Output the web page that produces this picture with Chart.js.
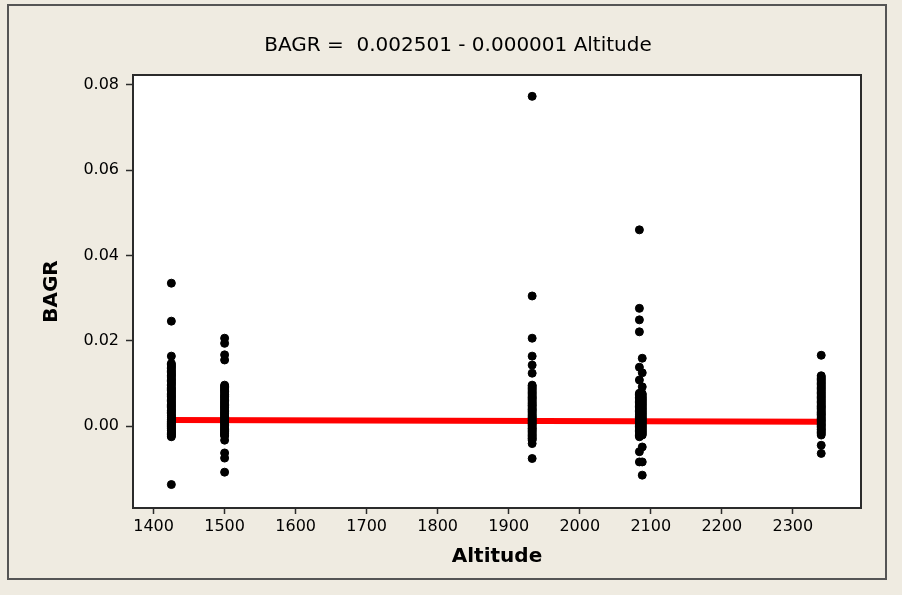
<!DOCTYPE html>
<html>
<head>
<meta charset="utf-8">
<script src="https://cdn.jsdelivr.net/npm/chart.js@4/dist/chart.umd.min.js"></script>
<style>
  html, body { margin: 0; padding: 0; background: #efebe1; }
  #wrap { width: 902px; height: 595px; }
</style>
</head>
<body>
<div id="wrap"><canvas id="chart" width="902" height="595"></canvas></div>
<script>
// site altitudes (x) and BAGR observations per site (y)
const site1Alt = 1425
const site1Bagr = [0.0335, 0.0246, 0.0164, 0.0147, 0.0144, 0.0141, 0.0138, 0.0135, 0.0131, 0.0128,
  0.0125, 0.0122, 0.0119, 0.0117, 0.0113, 0.0110, 0.0107, 0.0104, 0.0101, 0.0098, 0.0095, 0.0091,
  0.0088, 0.0086, 0.0083, 0.0080, 0.0077, 0.0074, 0.0071, 0.0069, 0.0066, 0.0063, 0.0060, 0.0057,
  0.0054, 0.0051, 0.0048, 0.0046, 0.0043, 0.0040, 0.0037, 0.0035, 0.0032, 0.0029, 0.0026, 0.0024,
  0.0021, 0.0019, 0.0016, 0.0014, 0.0011, 0.0009, 0.0006, 0.0004, 0.0001, -0.0001, -0.0004,
  -0.0006, -0.0009, -0.0011, -0.0014, -0.0016, -0.0018, -0.0020, -0.0023, -0.0025, -0.0137]

const site2Alt = 1500
const site2Bagr = [0.0206, 0.0194, 0.0167, 0.0155, 0.0096, 0.0093, 0.0090, 0.0087, 0.0084, 0.0081,
  0.0078, 0.0074, 0.0071, 0.0069, 0.0066, 0.0063, 0.0060, 0.0057, 0.0054, 0.0051, 0.0048, 0.0045,
  0.0043, 0.0040, 0.0037, 0.0034, 0.0031, 0.0029, 0.0026, 0.0023, 0.0020, 0.0018, 0.0015, 0.0012,
  0.0009, 0.0007, 0.0004, 0.0001, -0.0002, -0.0005, -0.0008, -0.0010, -0.0013, -0.0016, -0.0018,
  -0.0021, -0.0023, -0.0033, -0.0063, -0.0075, -0.0108]

const site3Alt = 1933
const site3Bagr = [0.0773, 0.0305, 0.0206, 0.0164, 0.0143, 0.0124, 0.0096, 0.0094, 0.0091, 0.0088,
  0.0085, 0.0082, 0.0079, 0.0076, 0.0073, 0.0070, 0.0067, 0.0065, 0.0062, 0.0059, 0.0056, 0.0053,
  0.0050, 0.0048, 0.0045, 0.0042, 0.0039, 0.0037, 0.0034, 0.0031, 0.0028, 0.0025, 0.0022, 0.0020,
  0.0017, 0.0014, 0.0012, 0.0009, 0.0006, 0.0004, 0.0001, -0.0002, -0.0005, -0.0007, -0.0010,
  -0.0013, -0.0016, -0.0019, -0.0022, -0.0025, -0.0028, -0.0030, -0.0033, -0.0041, -0.0076]

const site4AltA = 2084
const site4BagrA = [0.0460, 0.0276, 0.0249, 0.0221, 0.0138, 0.0108, 0.0077, 0.0074, 0.0071, 0.0067,
  0.0064, 0.0061, 0.0058, 0.0055, 0.0052, 0.0049, 0.0046, 0.0043, 0.0040, 0.0037, 0.0034, 0.0031,
  0.0028, 0.0026, 0.0023, 0.0020, 0.0017, 0.0014, 0.0011, 0.0008, 0.0005, 0.0002, -0.0001, -0.0004,
  -0.0007, -0.0010, -0.0013, -0.0016, -0.0019, -0.0022, -0.0025, -0.0060, -0.0084]
const site4AltB = 2088
const site4BagrB = [0.0159, 0.0125, 0.0092, 0.0076, 0.0073, 0.0069, 0.0066, 0.0063, 0.0060, 0.0057,
  0.0054, 0.0051, 0.0048, 0.0045, 0.0042, 0.0039, 0.0036, 0.0033, 0.0030, 0.0027, 0.0024, 0.0021,
  0.0018, 0.0015, 0.0012, 0.0009, 0.0006, 0.0003, 0.0000, -0.0003, -0.0006, -0.0009, -0.0012,
  -0.0015, -0.0018, -0.0021, -0.0049, -0.0084, -0.0115]

const site5Alt = 2340
const site5Bagr = [0.0166, 0.0118, 0.0115, 0.0112, 0.0109, 0.0106, 0.0103, 0.0100, 0.0097, 0.0094,
  0.0091, 0.0088, 0.0085, 0.0082, 0.0079, 0.0076, 0.0073, 0.0070, 0.0067, 0.0064, 0.0061, 0.0058,
  0.0055, 0.0052, 0.0049, 0.0046, 0.0044, 0.0041, 0.0038, 0.0035, 0.0032, 0.0029, 0.0027, 0.0024,
  0.0021, 0.0018, 0.0015, 0.0013, 0.0010, 0.0007, 0.0004, 0.0002, -0.0001, -0.0004, -0.0007,
  -0.0009, -0.0012, -0.0015, -0.0018, -0.0021, -0.0045, -0.0064]

// fitted line end points
const fitAlt = [1425, 2340]
const fitBagr = [0.0014, 0.0010]

const xTicks = [1400, 1500, 1600, 1700, 1800, 1900, 2000, 2100, 2200, 2300]
const yTicks = [0.00, 0.02, 0.04, 0.06, 0.08]

const titleText = 'BAGR =  0.002501 - 0.000001 Altitude'
const xTitle = 'Altitude'
const yTitle = 'BAGR'

const FONT = "'DejaVu Sans', sans-serif"

function pts(alt, vals) {
  return vals.map(v => ({ x: alt, y: v }))
}

const points = [].concat(
  pts(site1Alt, site1Bagr),
  pts(site2Alt, site2Bagr),
  pts(site3Alt, site3Bagr),
  pts(site4AltA, site4BagrA),
  pts(site4AltB, site4BagrB),
  pts(site5Alt, site5Bagr)
)

const frame = {
  id: 'frame',
  beforeDraw(chart) {
    const { ctx, chartArea: a } = chart
    ctx.save()
    ctx.fillStyle = '#efebe1'
    ctx.fillRect(0, 0, chart.width, chart.height)
    ctx.strokeStyle = '#555555'
    ctx.lineWidth = 2
    ctx.strokeRect(8, 5, 878, 574)
    ctx.fillStyle = '#ffffff'
    ctx.fillRect(a.left, a.top, a.right - a.left, a.bottom - a.top)
    ctx.restore()
  },
  afterDraw(chart) {
    const { ctx, chartArea: a } = chart
    ctx.save()
    ctx.strokeStyle = '#2b2b2b'
    ctx.lineWidth = 2
    ctx.strokeRect(a.left, a.top, a.right - a.left, a.bottom - a.top)
    ctx.fillStyle = '#000'
    ctx.font = '20px ' + FONT
    ctx.textAlign = 'center'
    ctx.textBaseline = 'middle'
    ctx.fillText(titleText, 458, 46)
    ctx.restore()
  }
}

new Chart(document.getElementById('chart'), {
  type: 'scatter',
  data: {
    datasets: [
      {
        label: 'BAGR',
        data: points,
        backgroundColor: '#000000',
        borderColor: '#000000',
        pointRadius: 4,
        pointHoverRadius: 4
      },
      {
        type: 'line',
        label: 'Fit',
        data: fitAlt.map((x, i) => ({ x, y: fitBagr[i] })),
        borderColor: '#ff0000',
        borderWidth: 6,
        pointRadius: 0,
        fill: false
      }
    ]
  },
  options: {
    responsive: false,
    animation: false,
    layout: { padding: { left: 0, top: 75, right: 41, bottom: 0 } },
    plugins: {
      legend: { display: false },
      tooltip: { enabled: false }
    },
    scales: {
      x: {
        type: 'linear',
        min: 1371,
        max: 2396,
        afterBuildTicks: s => { s.ticks = xTicks.map(v => ({ value: v })) },
        afterFit: s => { s.height = 87 },
        grid: { drawOnChartArea: false, tickLength: 6, tickColor: '#2b2b2b', tickWidth: 1.5 },
        border: { display: false },
        ticks: {
          color: '#000',
          padding: 3,
          maxRotation: 0,
          font: { family: FONT, size: 16 },
          callback: v => String(v)
        },
        title: {
          display: true,
          text: xTitle,
          color: '#000',
          font: { family: FONT, size: 20, weight: 'bold' },
          padding: { top: 0, bottom: 26 }
        }
      },
      y: {
        type: 'linear',
        min: -0.0192,
        max: 0.0823,
        afterBuildTicks: s => { s.ticks = yTicks.map(v => ({ value: v })) },
        afterFit: s => { s.width = 133 },
        grid: { drawOnChartArea: false, tickLength: 7, tickColor: '#2b2b2b', tickWidth: 1.5 },
        border: { display: false },
        ticks: {
          color: '#000',
          padding: 7,
          font: { family: FONT, size: 16 },
          callback: v => v.toFixed(2)
        },
        title: {
          display: true,
          text: yTitle,
          color: '#000',
          font: { family: FONT, size: 20, weight: 'bold' },
          padding: { top: 40, bottom: 0 }
        }
      }
    }
  },
  plugins: [frame]
})
</script>
</body>
</html>
